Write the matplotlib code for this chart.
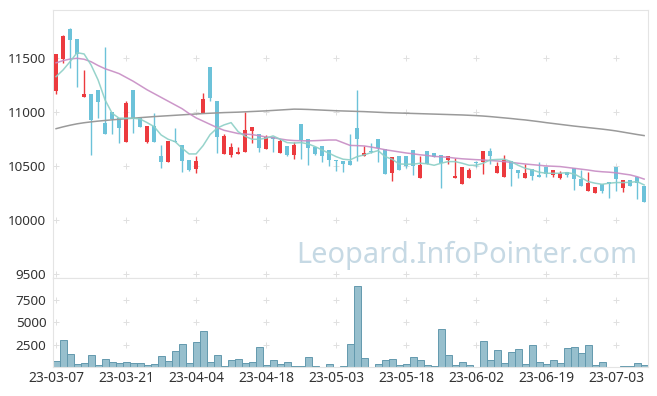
import matplotlib

matplotlib.use("Agg")
import matplotlib.pyplot as plt
import numpy as np

plt.rcParams["font.family"] = ["Noto Sans", "DejaVu Sans"]

# daily candles, Korean convention: red = close above open, blue = close below open
opens = [11197, 11494, 11768, 11676, 11142, 11167, 11201, 10898, 10997, 10942,
         10725, 11204, 10947, 10725, 10873, 10593, 10540, 10730, 10694, 10556,
         10469, 10994, 11417, 11102, 10608, 10602, 10614, 10632, 10827, 10796,
         10660, 10768, 10623, 10685, 10602, 10889, 10747, 10676, 10685, 10645,
         10556, 10549, 10549, 10855, 10596, 10640, 10750, 10657, 10432, 10593,
         10593, 10645, 10392, 10639, 10623, 10602, 10553, 10392, 10336, 10392,
         10540, 10534, 10639, 10438, 10401, 10549, 10466, 10392, 10472, 10417,
         10494, 10420, 10392, 10444, 10478, 10380, 10272, 10253, 10336, 10349,
         10494, 10293, 10367, 10395, 10312]
highs = [11540, 11710, 11780, 11676, 11392, 11167, 11201, 11599, 10997, 10942,
         11100, 11204, 10947, 10870, 10988, 10694, 10731, 10849, 10694, 10556,
         10593, 11175, 11417, 11102, 10793, 10710, 10673, 11000, 10860, 10796,
         10787, 10768, 10745, 10685, 10725, 10889, 10747, 10676, 10685, 10645,
         10556, 10549, 10796, 11204, 10685, 10716, 10750, 10657, 10586, 10593,
         10593, 10645, 10596, 10639, 10623, 10602, 10593, 10571, 10491, 10480,
         10550, 10639, 10670, 10537, 10602, 10549, 10466, 10515, 10472, 10540,
         10494, 10460, 10455, 10444, 10478, 10460, 10442, 10306, 10336, 10349,
         10494, 10370, 10367, 10395, 10312]
lows = [11167, 11450, 11404, 11234, 11140, 10602, 10942, 10799, 10799, 10710,
        10725, 10803, 10864, 10710, 10725, 10479, 10540, 10722, 10447, 10455,
        10438, 10994, 11102, 10623, 10608, 10586, 10614, 10632, 10710, 10627,
        10660, 10632, 10623, 10590, 10568, 10562, 10509, 10600, 10537, 10497,
        10451, 10447, 10512, 10549, 10596, 10623, 10537, 10426, 10361, 10466,
        10480, 10417, 10392, 10515, 10586, 10294, 10518, 10392, 10336, 10392,
        10490, 10423, 10518, 10438, 10401, 10318, 10392, 10392, 10365, 10401,
        10400, 10400, 10380, 10400, 10278, 10318, 10272, 10253, 10247, 10201,
        10272, 10262, 10318, 10192, 10169]
closes = [11537, 11704, 11670, 11540, 11167, 10929, 11095, 10799, 10932, 10855,
          11083, 10932, 10864, 10870, 10725, 10540, 10731, 10722, 10549, 10463,
          10546, 11120, 11132, 10771, 10778, 10673, 10632, 10830, 10860, 10667,
          10768, 10750, 10731, 10602, 10694, 10741, 10670, 10611, 10593, 10556,
          10546, 10521, 10512, 10753, 10620, 10628, 10670, 10426, 10586, 10466,
          10500, 10497, 10509, 10515, 10586, 10531, 10593, 10407, 10491, 10460,
          10528, 10639, 10596, 10497, 10556, 10472, 10438, 10438, 10410, 10401,
          10423, 10460, 10435, 10417, 10377, 10318, 10340, 10306, 10272, 10336,
          10380, 10370, 10318, 10340, 10169]
volumes = [634, 2985, 1418, 300, 410, 1306, 190, 858, 522, 410,
           522, 410, 410, 190, 300, 1194, 634, 1753, 2537, 410,
           2760, 3991, 522, 1306, 75, 746, 858, 410, 522, 2200,
           190, 746, 300, 522, 75, 75, 1082, 75, 0, 300,
           0, 75, 2574, 9064, 970, 0, 300, 783, 858, 190,
           300, 1082, 746, 190, 75, 4215, 1306, 190, 522, 190,
           0, 2872, 746, 1865, 410, 1641, 1977, 300, 2425, 522,
           300, 746, 410, 2090, 2200, 1530, 2425, 190, 522, 0,
           0, 75, 75, 410, 190]

# moving averages as drawn on the chart
ma5 = [11327, 11389, 11466, 11549, 11537, 11435, 11296, 11111, 10988, 10942,
       10942, 10942, 10935, 10901, 10864, 10787, 10747, 10725, 10664, 10611,
       10611, 10688, 10790, 10850, 10880, 10901, 10818, 10775, 10747, 10747,
       10757, 10778, 10747, 10716, 10712, 10716, 10704, 10679, 10648, 10617,
       10586, 10562, 10556, 10586, 10602, 10623, 10642, 10586, 10562, 10518,
       10516, 10516, 10525, 10520, 10506, 10525, 10540, 10540, 10525, 10506,
       10506, 10525, 10556, 10560, 10562, 10540, 10506, 10478, 10463, 10442,
       10432, 10432, 10432, 10438, 10426, 10392, 10355, 10340, 10330, 10340,
       10346, 10346, 10348, 10355, 10324]
ma20 = [11455, 11475, 11490, 11497, 11488, 11465, 11430, 11400, 11378, 11355,
        11320, 11285, 11245, 11205, 11170, 11135, 11100, 11065, 11030, 10985,
        10945, 10915, 10885, 10855, 10830, 10815, 10800, 10795, 10790, 10780,
        10768, 10762, 10750, 10740, 10735, 10733, 10732, 10734, 10737, 10740,
        10740, 10715, 10690, 10688, 10685, 10675, 10663, 10650, 10640, 10630,
        10620, 10612, 10603, 10597, 10588, 10585, 10580, 10572, 10566, 10562,
        10558, 10555, 10550, 10546, 10540, 10533, 10525, 10518, 10512, 10506,
        10500, 10497, 10494, 10486, 10478, 10470, 10462, 10452, 10446, 10442,
        10436, 10426, 10417, 10400, 10378]
ma120 = [10845, 10862, 10877, 10890, 10900, 10908, 10915, 10921, 10927, 10932,
         10937, 10942, 10947, 10952, 10957, 10961, 10965, 10969, 10973, 10977,
         10981, 10985, 10988, 10991, 10994, 10996, 10998, 11001, 11004, 11007,
         11010, 11014, 11018, 11022, 11026, 11025, 11023, 11020, 11017, 11014,
         11011, 11009, 11007, 11005, 11003, 11000, 10997, 10994, 10992, 10990,
         10988, 10986, 10984, 10982, 10980, 10978, 10976, 10974, 10972, 10969,
         10966, 10962, 10957, 10951, 10945, 10939, 10932, 10926, 10918, 10910,
         10901, 10893, 10885, 10877, 10869, 10862, 10855, 10848, 10841, 10833,
         10824, 10813, 10802, 10791, 10781]

date_ticks = [0, 10, 20, 30, 40, 50, 60, 70, 80]
date_labels = ["23-03-07", "23-03-21", "23-04-04", "23-04-18", "23-05-03",
               "23-05-18", "23-06-02", "23-06-19", "23-07-03"]
price_ticks = [9500, 10000, 10500, 11000, 11500]
volume_ticks = [2500, 5000, 7500]

UP = "#ec3a3e"
DOWN = "#6cc2d9"
SPINE = "#e4e4e4"
LABEL = "#333333"

o = np.array(opens, dtype=float)
h = np.array(highs, dtype=float)
lo = np.array(lows, dtype=float)
c = np.array(closes, dtype=float)
x = np.arange(len(o))
colors = np.where(c >= o, UP, DOWN)

fig = plt.figure(figsize=(6.57, 3.96), dpi=100)
ax = fig.add_axes([0.0811, 0.298, 0.9057, 0.6767])
axv = fig.add_axes([0.0811, 0.0732, 0.9057, 0.2248])

xlim = (-0.4, len(o) - 0.4)

# price panel
body_lo = np.minimum(o, c)
body_h = np.maximum(np.abs(c - o), 12)
ax.vlines(x, lo, h, color=colors, lw=1.0, zorder=2)
ax.bar(x, body_h, bottom=body_lo, width=0.66, color=colors, linewidth=0, zorder=3)
ax.plot(x, ma120, color="#9a9a9a", lw=1.1, zorder=4)
ax.plot(x, ma20, color="#c78cc4", lw=1.1, alpha=0.9, zorder=4)
ax.plot(x, ma5, color="#8ccfc6", lw=1.1, alpha=0.9, zorder=4)

gx, gy = np.meshgrid(date_ticks, price_ticks)
ax.plot(gx.ravel(), gy.ravel(), ls="none", marker="+", ms=4.5, mew=0.7, color="#e0e0e0", zorder=0)

ax.set_xlim(*xlim)
ax.set_ylim(9462, 11944)
ax.set_yticks(price_ticks)
ax.set_xticks([])
ax.tick_params(axis="y", length=0, pad=5, labelsize=9.7, labelcolor=LABEL)
for s in ax.spines.values():
    s.set_color(SPINE)

ax.text(0.981, 0.056, "Leopard.InfoPointer.com", transform=ax.transAxes,
        ha="right", va="baseline", fontsize=20.8, color="#c6d9e4", zorder=1)

# volume panel
axv.bar(x, volumes, width=1.0, color="#97bfcd", edgecolor="#6399ae", linewidth=0.7, zorder=2)
vx, vy = np.meshgrid(date_ticks, volume_ticks)
axv.plot(vx.ravel(), vy.ravel(), ls="none", marker="+", ms=4.5, mew=0.7, color="#e0e0e0", zorder=0)
axv.set_xlim(*xlim)
axv.set_ylim(0, 9950)
axv.set_yticks(volume_ticks)
axv.set_xticks(date_ticks)
axv.set_xticklabels(date_labels)
axv.tick_params(axis="both", length=0, labelcolor=LABEL)
axv.tick_params(axis="y", pad=5, labelsize=9.7)
axv.tick_params(axis="x", pad=3, labelsize=10)
for s in axv.spines.values():
    s.set_color(SPINE)

fig.savefig("out.png", dpi=100)
